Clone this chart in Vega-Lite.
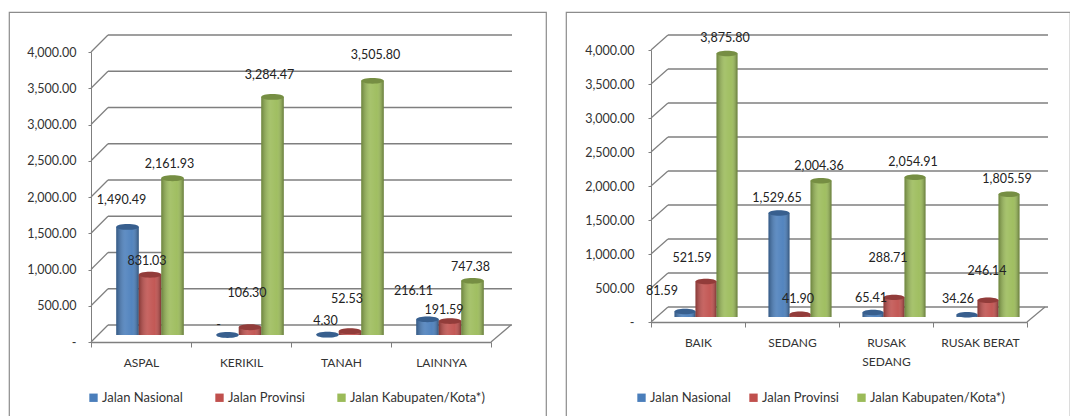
{"$schema":"https://vega.github.io/schema/vega-lite/v6.json","background":"white","padding":{"left":8,"top":11,"right":0,"bottom":0},"autosize":{"type":"pad"},"spacing":18,"config":{"view":{"stroke":"#8c8c8c","strokeWidth":1.2},"font":"Lato","text":{"font":"Lato"}},"resolve":{"scale":{"color":"independent","xOffset":"independent"}},
"datasets":{"tingkat":[{"tingkat":0},{"tingkat":500},{"tingkat":1000},{"tingkat":1500},{"tingkat":2000},{"tingkat":2500},{"tingkat":3000},{"tingkat":3500},{"tingkat":4000}],
"jenis":[{"kategori":"ASPAL","seri":"Jalan Nasional","nilai":1490.49,"label":"1,490.49"},{"kategori":"ASPAL","seri":"Jalan Provinsi","nilai":831.03,"label":"831.03"},{"kategori":"ASPAL","seri":"Jalan Kabupaten/Kota*)","nilai":2161.93,"label":"2,161.93"},{"kategori":"KERIKIL","seri":"Jalan Nasional","nilai":0,"label":"-"},{"kategori":"KERIKIL","seri":"Jalan Provinsi","nilai":106.30,"label":"106.30"},{"kategori":"KERIKIL","seri":"Jalan Kabupaten/Kota*)","nilai":3284.47,"label":"3,284.47"},{"kategori":"TANAH","seri":"Jalan Nasional","nilai":4.30,"label":"4.30"},{"kategori":"TANAH","seri":"Jalan Provinsi","nilai":52.53,"label":"52.53"},{"kategori":"TANAH","seri":"Jalan Kabupaten/Kota*)","nilai":3505.80,"label":"3,505.80"},{"kategori":"LAINNYA","seri":"Jalan Nasional","nilai":216.11,"label":"216.11"},{"kategori":"LAINNYA","seri":"Jalan Provinsi","nilai":191.59,"label":"191.59"},{"kategori":"LAINNYA","seri":"Jalan Kabupaten/Kota*)","nilai":747.38,"label":"747.38"}],
"kondisi":[{"kategori":"BAIK","seri":"Jalan Nasional","nilai":81.59,"label":"81.59"},{"kategori":"BAIK","seri":"Jalan Provinsi","nilai":521.59,"label":"521.59"},{"kategori":"BAIK","seri":"Jalan Kabupaten/Kota*)","nilai":3875.80,"label":"3,875.80"},{"kategori":"SEDANG","seri":"Jalan Nasional","nilai":1529.65,"label":"1,529.65"},{"kategori":"SEDANG","seri":"Jalan Provinsi","nilai":41.90,"label":"41.90"},{"kategori":"SEDANG","seri":"Jalan Kabupaten/Kota*)","nilai":2004.36,"label":"2,004.36"},{"kategori":"RUSAK SEDANG","seri":"Jalan Nasional","nilai":65.41,"label":"65.41"},{"kategori":"RUSAK SEDANG","seri":"Jalan Provinsi","nilai":288.71,"label":"288.71"},{"kategori":"RUSAK SEDANG","seri":"Jalan Kabupaten/Kota*)","nilai":2054.91,"label":"2,054.91"},{"kategori":"RUSAK BERAT","seri":"Jalan Nasional","nilai":34.26,"label":"34.26"},{"kategori":"RUSAK BERAT","seri":"Jalan Provinsi","nilai":246.14,"label":"246.14"},{"kategori":"RUSAK BERAT","seri":"Jalan Kabupaten/Kota*)","nilai":1805.59,"label":"1,805.59"}]},
"hconcat":[
{"width":537,"height":405,"resolve":{"scale":{"x":"independent","y":"independent"}},"layer":[
{"data":{"name":"tingkat"},"mark":{"type":"rule","color":"#7f7f7f","strokeWidth":1.3},"encoding":{"x":{"datum":0,"type":"quantitative","axis":null,"scale":{"domain":[0,1],"range":[99,503]}},"x2":{"datum":1},"y":{"field":"tingkat","type":"quantitative","axis":null,"scale":{"domain":[0,4000],"range":[313,23]}}}},
{"data":{"name":"tingkat"},"mark":{"type":"point","shape":"M-1,1L1,-1","size":289,"filled":false,"stroke":"#7f7f7f","strokeWidth":1.2,"opacity":1},"encoding":{"x":{"datum":0,"type":"quantitative","axis":null,"scale":{"domain":[0,1],"range":[90.5,490.5]}},"y":{"field":"tingkat","type":"quantitative","axis":null,"scale":{"domain":[0,4000],"range":[321.5,31.5]}}}},
{"data":{"name":"tingkat"},"transform":[{"filter":"datum.tingkat===0"}],"mark":{"type":"point","shape":"M-1,0.85L1,-0.85","size":400,"filled":false,"stroke":"#7f7f7f","strokeWidth":1.2,"opacity":1},"encoding":{"x":{"datum":1,"type":"quantitative","axis":null,"scale":{"domain":[0,1],"range":[90.5,492]}},"y":{"field":"tingkat","type":"quantitative","axis":null,"scale":{"domain":[0,4000],"range":[321.5,31.5]}}}},
{"data":{"name":"jenis"},"mark":{"type":"bar","opacity":0},"encoding":{"x":{"field":"kategori","type":"nominal","sort":null,"title":null,"scale":{"domain":["ASPAL","KERIKIL","TANAH","LAINNYA"],"range":[82,482],"paddingInner":0,"paddingOuter":0},"axis":{"orient":"bottom","offset":-75,"labelAngle":0,"tickBand":"extent","domainColor":"#7f7f7f","domainWidth":1.6,"tickColor":"#7f7f7f","tickSize":5,"labelColor":"#333333","labelFont":"Lato","labelFontSize":12,"labelPadding":10,"grid":false}},"y":{"field":"nilai","type":"quantitative","title":null,"scale":{"domain":[0,4000],"range":[330,40]},"axis":{"orient":"left","offset":-82,"values":[0,500,1000,1500,2000,2500,3000,3500,4000],"labelExpr":"datum.value===0?'-':format(datum.value,',.2f')","domainColor":"#7f7f7f","tickColor":"#7f7f7f","tickSize":3,"labelColor":"#333333","labelFont":"Lato","labelFontSize":12.5,"labelPadding":12,"grid":false}}}},
{"data":{"name":"jenis"},"encoding":{"x":{"field":"kategori","type":"nominal","sort":null,"axis":null,"scale":{"domain":["ASPAL","KERIKIL","TANAH","LAINNYA"],"range":[91,491],"paddingInner":0,"paddingOuter":0}},"xOffset":{"field":"seri","type":"nominal","sort":null,"scale":{"domain":["Jalan Nasional","Jalan Provinsi","Jalan Kabupaten/Kota*)"],"range":[0,100],"paddingInner":0,"paddingOuter":0.722}},"y":{"field":"nilai","type":"quantitative","axis":null,"scale":{"domain":[0,4000],"range":[323,33]}}},"layer":[
{"mark":{"type":"bar"},"encoding":{"color":{"field":"seri","type":"nominal","title":null,"scale":{"domain":["Jalan Nasional","Jalan Provinsi","Jalan Kabupaten/Kota*)"],"range":["#4a7ebb","#c0504d","#9bbb59"]},"legend":{"orient":"none","legendX":78,"legendY":379,"direction":"horizontal","columns":3,"columnPadding":30,"symbolType":"square","symbolSize":70,"symbolStrokeWidth":0,"labelFont":"Lato","labelFontSize":13,"labelColor":"#333333","labelOffset":2}}}},
{"mark":{"type":"bar","color":{"gradient":"linear","x1":0,"x2":1,"y1":0,"y2":0,"stops":[{"offset":0,"color":"rgba(0,0,0,0.3)"},{"offset":0.4,"color":"rgba(255,255,255,0.12)"},{"offset":0.7,"color":"rgba(255,255,255,0.05)"},{"offset":1,"color":"rgba(0,0,0,0.35)"}]}}},
{"mark":{"type":"point","filled":true,"opacity":1,"shape":"M-1,0A1,0.26,0,1,1,1,0A1,0.26,0,1,1,-1,0Z","size":506},"encoding":{"color":{"field":"seri","type":"nominal","legend":null}}},
{"mark":{"type":"point","filled":true,"opacity":1,"color":"rgba(0,0,0,0.24)","shape":"M-1,0A1,0.26,0,1,1,1,0A1,0.26,0,1,1,-1,0Z","size":506}},
{"transform":[{"filter":"datum.label==='1,490.49'"}],"mark":{"type":"text","dx":-6,"dy":-27,"font":"Lato","fontSize":12.5,"color":"#222222"},"encoding":{"text":{"field":"label"}}},
{"transform":[{"filter":{"field":"label","oneOf":["831.03","2,161.93"]}}],"mark":{"type":"text","dx":-3,"dy":-14,"font":"Lato","fontSize":12.5,"color":"#222222"},"encoding":{"text":{"field":"label"}}},
{"transform":[{"filter":"datum.label==='3,284.47'"}],"mark":{"type":"text","dx":-3,"dy":-22,"font":"Lato","fontSize":12.5,"color":"#222222"},"encoding":{"text":{"field":"label"}}},
{"transform":[{"filter":"datum.label==='106.30'"}],"mark":{"type":"text","dx":-3,"dy":-34,"font":"Lato","fontSize":12.5,"color":"#222222"},"encoding":{"text":{"field":"label"}}},
{"transform":[{"filter":"datum.label==='52.53'"}],"mark":{"type":"text","dx":-3,"dy":-32,"font":"Lato","fontSize":12.5,"color":"#222222"},"encoding":{"text":{"field":"label"}}},
{"transform":[{"filter":"datum.label==='-'"}],"mark":{"type":"text","dx":-9,"dy":-10,"font":"Lato","fontSize":12.5,"color":"#222222"},"encoding":{"text":{"field":"label"}}},
{"transform":[{"filter":"datum.label==='4.30'"}],"mark":{"type":"text","dx":-2,"dy":-14,"font":"Lato","fontSize":12.5,"color":"#222222"},"encoding":{"text":{"field":"label"}}},
{"transform":[{"filter":"datum.label==='3,505.80'"}],"mark":{"type":"text","dx":3,"dy":-26,"font":"Lato","fontSize":12.5,"color":"#222222"},"encoding":{"text":{"field":"label"}}},
{"transform":[{"filter":"datum.label==='216.11'"}],"mark":{"type":"text","dx":-14,"dy":-28,"font":"Lato","fontSize":12.5,"color":"#222222"},"encoding":{"text":{"field":"label"}}},
{"transform":[{"filter":"datum.label==='191.59'"}],"mark":{"type":"text","dx":-6,"dy":-11,"font":"Lato","fontSize":12.5,"color":"#222222"},"encoding":{"text":{"field":"label"}}},
{"transform":[{"filter":"datum.label==='747.38'"}],"mark":{"type":"text","dx":-2,"dy":-14,"font":"Lato","fontSize":12.5,"color":"#222222"},"encoding":{"text":{"field":"label"}}}
]}
]},
{"width":504,"height":405,"resolve":{"scale":{"x":"independent","y":"independent"}},"layer":[
{"data":{"name":"tingkat"},"mark":{"type":"rule","color":"#7f7f7f","strokeWidth":1.3},"encoding":{"x":{"datum":0,"type":"quantitative","axis":null,"scale":{"domain":[0,1],"range":[102,482]}},"x2":{"datum":1},"y":{"field":"tingkat","type":"quantitative","axis":null,"scale":{"domain":[0,4000],"range":[295,23]}}}},
{"data":{"name":"tingkat"},"mark":{"type":"point","shape":"M-1,0.88L1,-0.88","size":289,"filled":false,"stroke":"#7f7f7f","strokeWidth":1.2,"opacity":1},"encoding":{"x":{"datum":0,"type":"quantitative","axis":null,"scale":{"domain":[0,1],"range":[93.5,469.5]}},"y":{"field":"tingkat","type":"quantitative","axis":null,"scale":{"domain":[0,4000],"range":[302.5,30.5]}}}},
{"data":{"name":"tingkat"},"transform":[{"filter":"datum.tingkat===0"}],"mark":{"type":"point","shape":"M-1,0.83L1,-0.83","size":324,"filled":false,"stroke":"#7f7f7f","strokeWidth":1.2,"opacity":1},"encoding":{"x":{"datum":1,"type":"quantitative","axis":null,"scale":{"domain":[0,1],"range":[93.5,470]}},"y":{"field":"tingkat","type":"quantitative","axis":null,"scale":{"domain":[0,4000],"range":[302.5,30.5]}}}},
{"data":{"name":"kondisi"},"mark":{"type":"bar","opacity":0},"encoding":{"x":{"field":"kategori","type":"nominal","sort":null,"title":null,"scale":{"domain":["BAIK","SEDANG","RUSAK SEDANG","RUSAK BERAT"],"range":[85,461],"paddingInner":0,"paddingOuter":0},"axis":{"orient":"bottom","offset":-95,"labelAngle":0,"tickBand":"extent","labelExpr":"datum.value==='RUSAK SEDANG'?['RUSAK','SEDANG']:datum.value","labelLineHeight":19,"domainColor":"#7f7f7f","domainWidth":1.6,"tickColor":"#7f7f7f","tickSize":5,"labelColor":"#333333","labelFont":"Lato","labelFontSize":12,"labelPadding":10,"grid":false}},"y":{"field":"nilai","type":"quantitative","title":null,"scale":{"domain":[0,4000],"range":[310,38]},"axis":{"orient":"left","offset":-85,"values":[0,500,1000,1500,2000,2500,3000,3500,4000],"labelExpr":"datum.value===0?'-':format(datum.value,',.2f')","domainColor":"#7f7f7f","tickColor":"#7f7f7f","tickSize":3,"labelColor":"#333333","labelFont":"Lato","labelFontSize":12.5,"labelPadding":14,"grid":false}}}},
{"data":{"name":"kondisi"},"encoding":{"x":{"field":"kategori","type":"nominal","sort":null,"axis":null,"scale":{"domain":["BAIK","SEDANG","RUSAK SEDANG","RUSAK BERAT"],"range":[93,469],"paddingInner":0,"paddingOuter":0}},"xOffset":{"field":"seri","type":"nominal","sort":null,"scale":{"domain":["Jalan Nasional","Jalan Provinsi","Jalan Kabupaten/Kota*)"],"range":[0,94],"paddingInner":0,"paddingOuter":0.738}},"y":{"field":"nilai","type":"quantitative","axis":null,"scale":{"domain":[0,4000],"range":[305,33]}}},"layer":[
{"mark":{"type":"bar"},"encoding":{"color":{"field":"seri","type":"nominal","title":null,"scale":{"domain":["Jalan Nasional","Jalan Provinsi","Jalan Kabupaten/Kota*)"],"range":["#4a7ebb","#c0504d","#9bbb59"]},"legend":{"orient":"none","legendX":69,"legendY":379,"direction":"horizontal","columns":3,"columnPadding":16,"symbolType":"square","symbolSize":70,"symbolStrokeWidth":0,"labelFont":"Lato","labelFontSize":13,"labelColor":"#333333","labelOffset":2}}}},
{"mark":{"type":"bar","color":{"gradient":"linear","x1":0,"x2":1,"y1":0,"y2":0,"stops":[{"offset":0,"color":"rgba(0,0,0,0.3)"},{"offset":0.4,"color":"rgba(255,255,255,0.12)"},{"offset":0.7,"color":"rgba(255,255,255,0.05)"},{"offset":1,"color":"rgba(0,0,0,0.35)"}]}}},
{"mark":{"type":"point","filled":true,"opacity":1,"shape":"M-1,0A1,0.26,0,1,1,1,0A1,0.26,0,1,1,-1,0Z","size":441},"encoding":{"color":{"field":"seri","type":"nominal","legend":null}}},
{"mark":{"type":"point","filled":true,"opacity":1,"color":"rgba(0,0,0,0.24)","shape":"M-1,0A1,0.26,0,1,1,1,0A1,0.26,0,1,1,-1,0Z","size":441}},
{"transform":[{"filter":"datum.label==='81.59'"}],"mark":{"type":"text","dx":-23,"dy":-20,"font":"Lato","fontSize":12.5,"color":"#222222"},"encoding":{"text":{"field":"label"}}},
{"transform":[{"filter":"datum.label==='521.59'"}],"mark":{"type":"text","dx":-14,"dy":-24,"font":"Lato","fontSize":12.5,"color":"#222222"},"encoding":{"text":{"field":"label"}}},
{"transform":[{"filter":{"field":"label","oneOf":["3,875.80","1,529.65","41.90","2,004.36","65.41","2,054.91","1,805.59"]}}],"mark":{"type":"text","dx":-2,"dy":-15,"font":"Lato","fontSize":12.5,"color":"#222222"},"encoding":{"text":{"field":"label"}}},
{"transform":[{"filter":"datum.label==='288.71'"}],"mark":{"type":"text","dx":-6,"dy":-39,"font":"Lato","fontSize":12.5,"color":"#222222"},"encoding":{"text":{"field":"label"}}},
{"transform":[{"filter":"datum.label==='34.26'"}],"mark":{"type":"text","dx":-9,"dy":-16,"font":"Lato","fontSize":12.5,"color":"#222222"},"encoding":{"text":{"field":"label"}}},
{"transform":[{"filter":"datum.label==='246.14'"}],"mark":{"type":"text","dx":-1,"dy":-29,"font":"Lato","fontSize":12.5,"color":"#222222"},"encoding":{"text":{"field":"label"}}}
]}
]}
]}
